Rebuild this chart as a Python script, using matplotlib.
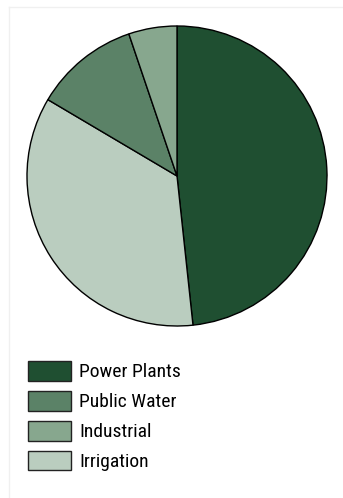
import matplotlib
matplotlib.use("Agg")
import matplotlib.pyplot as plt
from matplotlib.patches import Patch
from matplotlib import font_manager

# water use shares (%), clockwise from 12 o'clock
pie_labels = ["Power Plants", "Irrigation", "Public Water", "Industrial"]
pie_values = [48.3, 35.2, 11.3, 5.2]
pie_colors = ["#1f4f31", "#bacdbf", "#5b8267", "#87a78e"]

legend_order = ["Power Plants", "Public Water", "Industrial", "Irrigation"]

names = {f.name for f in font_manager.fontManager.ttflist}
fam, fsize = "Roboto", 12.5
for cand in ["Roboto Condensed", "Liberation Sans Narrow", "Open Sans Condensed",
             "DejaVu Sans Condensed"]:
    if cand in names:
        fam, fsize = cand, 14.0
        break

W, H = 343, 498
fig = plt.figure(figsize=(W / 100, H / 100), dpi=100)

# faint card border
fig.add_artist(plt.Line2D([9 / W, 9 / W], [0, 1 - 7 / H], color="#f0f0f0", lw=1))
fig.add_artist(plt.Line2D([9 / W, 1], [1 - 7 / H, 1 - 7 / H], color="#f0f0f0", lw=1))

ax = fig.add_axes([27 / W, 1 - 326 / H, 300 / W, 300 / H])
ax.pie(pie_values, colors=pie_colors, startangle=90, counterclock=False,
       wedgeprops=dict(edgecolor="black", linewidth=1.0))
ax.set_xlim(-1.0, 1.0)
ax.set_ylim(-1.0, 1.0)
ax.set_aspect("equal")
ax.axis("off")

px = fsize * 100 / 72
col = dict(zip(pie_labels, pie_colors))
handles = [Patch(facecolor=col[n], edgecolor="#222222", linewidth=1.0, label=n)
           for n in legend_order]
fig.legend(handles=handles, loc="upper left",
           bbox_to_anchor=(28 / W, 1 - 361 / H), frameon=False,
           prop=dict(family=fam, size=fsize),
           handlelength=43 / px, handleheight=23 / px, handletextpad=8 / px,
           labelspacing=9.5 / px, borderpad=0, borderaxespad=0)

fig.savefig("out.png", dpi=100)
